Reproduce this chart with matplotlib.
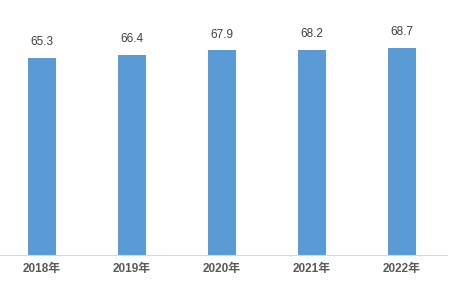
import matplotlib.pyplot as plt

years = ['2018年', '2019年', '2020年', '2021年', '2022年']
values = [65.3, 66.4, 67.9, 68.2, 68.7]

plt.rcParams['font.family'] = ['Liberation Sans', 'Noto Sans CJK SC']

fig = plt.figure(figsize=(4.53, 2.83), dpi=100)
ax = fig.add_axes([0, 28 / 283, 447 / 453, 241 / 283])

x = range(len(years))
bars = ax.bar(x, values, width=0.31, color='#5B9BD5')
for xi, v in zip(x, values):
    ax.text(xi, v + 3.3, f'{v}', ha='center', va='bottom', fontsize=8.5, color='#404040')

ax.set_xlim(-42 / 90, 4.5)
ax.set_ylim(0, 80)
ax.set_xticks(list(x))
ax.set_xticklabels(years, fontsize=8.5, color='#595959', fontweight='bold')
ax.tick_params(axis='x', length=0, pad=6)
ax.set_yticks([])
for s in ['top', 'right', 'left']:
    ax.spines[s].set_visible(False)
ax.spines['bottom'].set_color('#D9D9D9')

fig.savefig('out.png', dpi=100)
